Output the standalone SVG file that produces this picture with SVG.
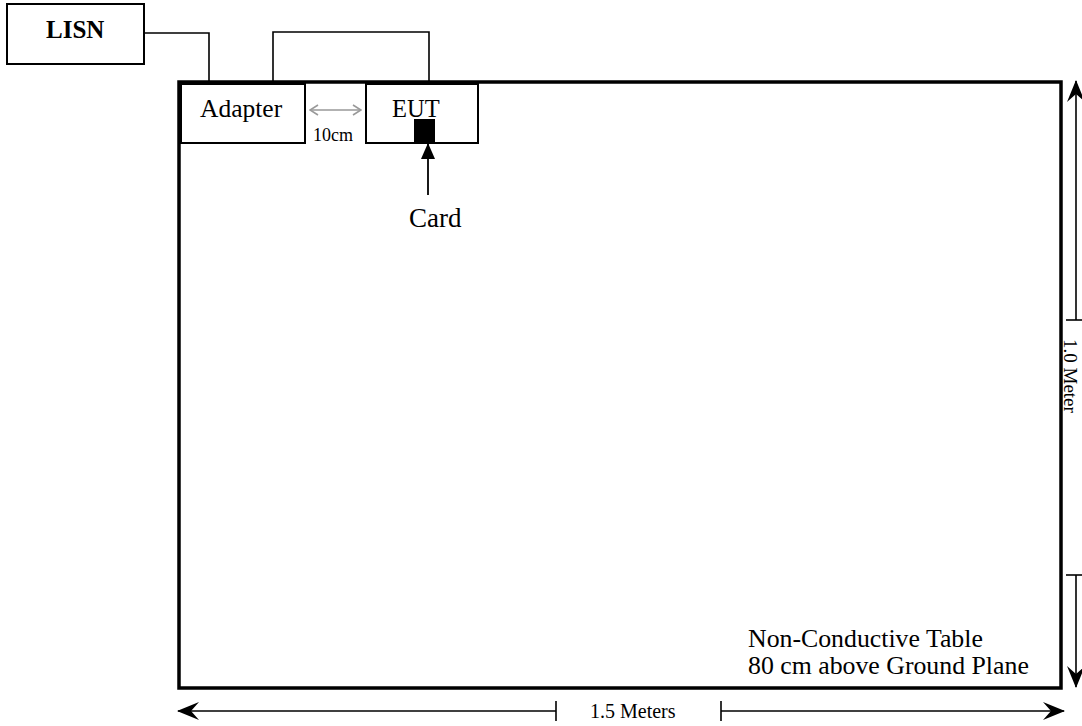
<svg xmlns="http://www.w3.org/2000/svg" width="1082" height="726" viewBox="0 0 1082 726">
<style>
.t{font-family:"Liberation Serif","Times New Roman",serif;fill:#000}
.box{fill:#fff;stroke:#000;stroke-width:2}
.wire{fill:none;stroke:#000;stroke-width:1.6}
.dim{fill:none;stroke:#000;stroke-width:1.6}
</style>
<defs>
<marker id="dimArrow" markerUnits="userSpaceOnUse" viewBox="0 0 22 18" refX="21" refY="9" markerWidth="22" markerHeight="18" orient="auto-start-reverse">
<path d="M0,0 L22,9 L0,18 L8,9 Z" fill="#000"/>
</marker>
<marker id="cardArrow" markerUnits="userSpaceOnUse" viewBox="0 0 16 14" refX="15" refY="7" markerWidth="16" markerHeight="14" orient="auto">
<path d="M0,0 L16,7 L0,14 Z" fill="#000"/>
</marker>
<marker id="grayArrow" markerUnits="userSpaceOnUse" viewBox="0 0 10 12" refX="9" refY="6" markerWidth="10" markerHeight="12" orient="auto-start-reverse">
<path d="M1,1 L9,6 L1,11" fill="none" stroke="#999" stroke-width="1.6"/>
</marker>
</defs>
<rect width="1082" height="726" fill="#fff"/>
<g id="table">
<rect x="179" y="82" width="882" height="606" fill="none" stroke="#000" stroke-width="3.5"/>
<text class="t" x="748" y="647" font-size="25.8">Non-Conductive Table</text>
<text class="t" x="748" y="674" font-size="25.8">80 cm above Ground Plane</text>
</g>
<g id="lisn">
<rect class="box" x="7" y="4" width="137" height="60"/>
<text class="t" x="46" y="38" font-size="25" font-weight="bold">LISN</text>
</g>
<g id="adapter">
<rect class="box" x="181" y="84" width="124" height="59"/>
<text class="t" x="200" y="117" font-size="25.5">Adapter</text>
</g>
<g id="eut">
<rect class="box" x="366" y="84" width="112" height="59"/>
<text class="t" x="392" y="117" font-size="24.5">EUT</text>
</g>
<g id="card">
<rect x="414" y="119" width="21" height="23" fill="#000"/>
<text class="t" x="409" y="227" font-size="27">Card</text>
</g>
<g id="connectors">
<polyline class="wire" points="144,33 209,33 209,82"/>
<polyline class="wire" points="273,82 273,32 429,32 429,82"/>
<line x1="428" y1="195" x2="428" y2="144" stroke="#000" stroke-width="1.8" marker-end="url(#cardArrow)"/>
<line x1="310" y1="110" x2="361" y2="110" stroke="#999" stroke-width="1.6" marker-start="url(#grayArrow)" marker-end="url(#grayArrow)"/>
</g>
<g id="spacing">
<text class="t" x="313" y="141" font-size="18">10cm</text>
</g>
<g id="dimensions">
<line class="dim" x1="556" y1="711" x2="178" y2="711" marker-end="url(#dimArrow)"/>
<line class="dim" x1="556" y1="701" x2="556" y2="721"/>
<line class="dim" x1="721" y1="711" x2="1064" y2="711" marker-end="url(#dimArrow)"/>
<line class="dim" x1="721" y1="701" x2="721" y2="721"/>
<text class="t" x="590" y="718" font-size="20">1.5 Meters</text>
<line class="dim" x1="1076" y1="320" x2="1076" y2="81" marker-end="url(#dimArrow)"/>
<line class="dim" x1="1066" y1="320" x2="1086" y2="320"/>
<line class="dim" x1="1076" y1="575" x2="1076" y2="687" marker-end="url(#dimArrow)"/>
<line class="dim" x1="1066" y1="575" x2="1086" y2="575"/>
<text class="t" font-size="19" transform="translate(1064,339) rotate(90)">1.0 Meter</text>
</g>
</svg>
